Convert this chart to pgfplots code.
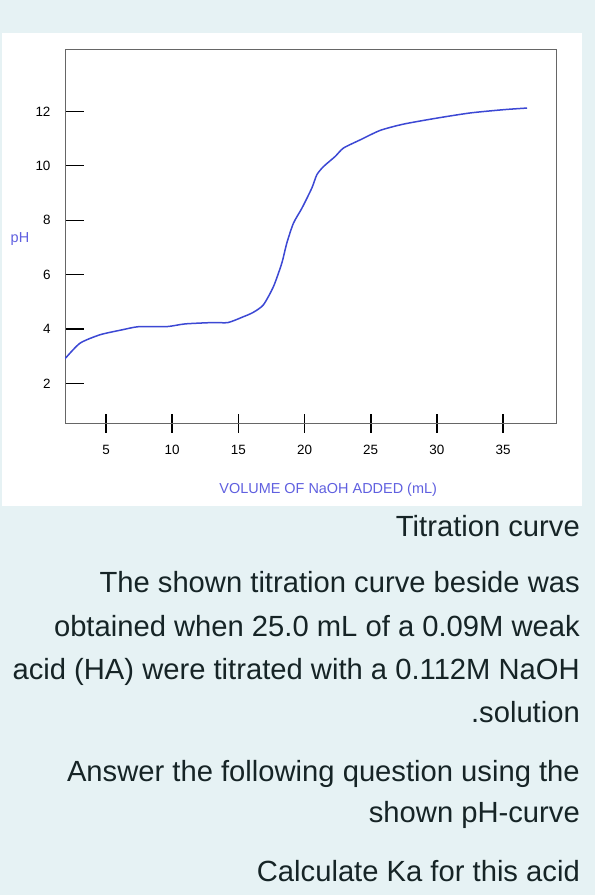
\documentclass[border=0pt]{standalone}
\usepackage{pgfplots}
\pgfplotsset{compat=1.18}
\usepackage{fontspec}
\setmainfont{Liberation Sans}
\definecolor{bgpage}{RGB}{230,242,244}
\definecolor{txt}{RGB}{22,36,38}
\definecolor{curve}{RGB}{60,72,212}
\definecolor{lab}{RGB}{96,96,224}

\begin{document}
\begin{tikzpicture}[x=1bp,y=1bp]
\fill[bgpage] (0,0) rectangle (595,895);
\useasboundingbox (0,0) rectangle (595,895);
\fill[white] (2,389) rectangle (582,862);
\begin{axis}[
    at={(65bp,472bp)}, anchor=south west,
    scale only axis, width=491bp, height=374bp,
    xmin=1.9, xmax=39, ymin=0.55, ymax=14.29,
    xtick={5,10,...,35}, ytick={2,4,...,12},
    xtick pos=bottom, ytick pos=left,
    tick align=inside,
    major tick length=19bp,
    axis line style={draw=black!60, line width=0.9bp},
    ytick style={black, line width=1.2bp},
    xtick style={black, line width=1.6bp, yshift=-10bp},
    /pgf/number format/assume math mode=true,
    ticklabel style={font=\fontsize{13.5}{15}\selectfont},
    yticklabel style={xshift=-11bp},
    xticklabel style={yshift=-19bp},
    every axis x label/.style={at={(axis description cs:0.536,-0.179)}, anchor=center,
        font=\fontsize{14.5}{16}\selectfont, text=lab},
    every axis y label/.style={at={(axis description cs:-0.0917,0.492)}, anchor=center,
        font=\fontsize{14.5}{16}\selectfont, text=lab},
    xlabel={VOLUME OF NaOH ADDED (mL)},
    ylabel={pH},
]
\addplot[curve, line width=1.5bp, smooth, tension=0.4] coordinates {
(1.90,2.91) (3.03,3.48) (4.54,3.79) (6.19,3.97) (7.49,4.09) (9.59,4.09)
(10.97,4.19) (13.09,4.24) (14.22,4.24) (15.36,4.45) (16.11,4.61) (16.89,4.89)
(17.65,5.56) (18.28,6.42) (18.66,7.16) (19.16,7.89) (19.80,8.44)
(20.55,9.18) (20.93,9.67) (21.43,9.97) (22.31,10.34) (22.94,10.65) (24.20,10.95)
(25.72,11.30) (27.48,11.53) (30.00,11.75) (32.52,11.94) (35.04,12.06) (36.81,12.12)
};
\end{axis}
\begin{scope}[every node/.style={anchor=base east, inner sep=0pt, text=txt,
    font=\fontsize{29.3}{32}\selectfont}]
\node at (580,358.3) {Titration curve};
\node at (580,302) {The shown titration curve beside was};
\node at (580,258) {obtained when 25.0 mL of a 0.09M weak};
\node at (580,215) {acid (HA) were titrated with a 0.112M NaOH};
\node at (580,172.3) {.solution};
\node at (580,113.3) {Answer the following question using the};
\node at (580,72) {shown pH-curve};
\node at (580,13.3) {Calculate Ka for this acid};
\end{scope}
\end{tikzpicture}
\end{document}
